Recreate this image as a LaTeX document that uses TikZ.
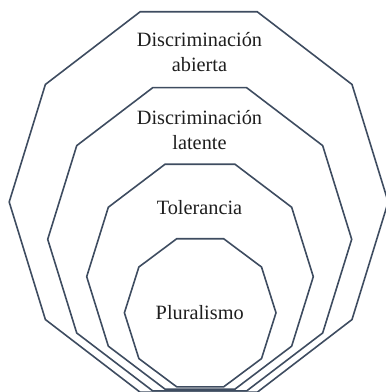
\documentclass[tikz,border=0pt]{standalone}
\usepackage{fontspec}
\setmainfont{Liberation Serif}
\definecolor{edge}{RGB}{62,76,96}
\definecolor{ink}{RGB}{30,30,30}
\begin{document}
\begin{tikzpicture}[x=1pt,y=1pt,
  deca/.style={draw=edge,line width=1.6pt,line join=miter},
  lbl/.style={inner sep=0pt,align=center,text=ink,font=\fontsize{20.3}{25.8}\selectfont}]
\useasboundingbox (0,0) rectangle (386,392);
\clip (0,0) rectangle (386,392);
\draw[deca] plot[samples at={72,108,...,396}] ({198.7+189.5*cos(\x)},{190+200*sin(\x)}) -- cycle;
\draw[deca] plot[samples at={72,108,...,396}] ({199.7+152*cos(\x)},{152.7+159.4*sin(\x)}) -- cycle;
\draw[deca] plot[samples at={72,108,...,396}] ({200+113.3*cos(\x)},{115.3+118.2*sin(\x)}) -- cycle;
\draw[deca] plot[samples at={72,108,...,396}] ({200.2+75.8*cos(\x)},{79.2+77.9*sin(\x)}) -- cycle;
\node[lbl] (abierta) at (199.5,340) {Discriminación\\abierta};
\node[lbl] (latente) at (199.5,262) {Discriminación\\latente};
\node[lbl] (tol) at (199.5,184) {Tolerancia};
\node[lbl] (plur) at (199.7,79) {Pluralismo};
\end{tikzpicture}
\end{document}
